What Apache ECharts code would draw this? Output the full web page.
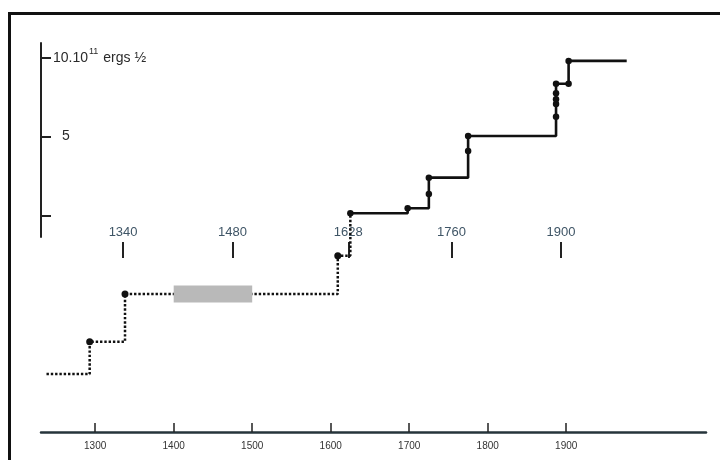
<!DOCTYPE html>
<html><head><meta charset="utf-8">
<script src="https://cdn.jsdelivr.net/npm/echarts@6/dist/echarts.min.js"></script>
<style>
html,body{margin:0;padding:0;background:#fff;}
#frame{position:absolute;left:8px;top:12px;width:712px;height:448px;border-top:3px solid #111;border-left:3px solid #111;box-sizing:border-box;}
#chart{position:absolute;left:0;top:0;width:720px;height:460px;}
</style></head><body>
<div id="frame"></div><div id="chart"></div>
<script>
// Reconstructed (dotted) part of the cumulative curve
const dottedYears = [1238, 1293, 1338, 1609, 1625];
const dottedValues = [-10.0, -7.95, -4.94, -2.53, 0.15];
// Instrumental / historical (solid) part
const solidYears = [1625, 1698, 1725, 1725, 1775, 1775, 1887, 1887, 1887, 1887, 1887, 1903, 1903, 1977];
const solidValues = [0.15, 0.47, 1.37, 2.40, 4.08, 5.03, 6.25, 7.05, 7.35, 7.73, 8.33, 8.33, 9.77, 9.77];
// Grey gap period
const grayPeriod = [1400, 1500];
// Tick labels
const yearTicks = [1300, 1400, 1500, 1600, 1700, 1800, 1900];
const markerYears = [1340, 1480, 1628, 1760, 1900];
const yTicks = [0, 5, 10];

const FONT = 'Liberation Sans';
const dotted = dottedYears.map((x, i) => [x, dottedValues[i]]);
const solid = solidYears.map((x, i) => [x, solidValues[i]]);

const chart = echarts.init(document.getElementById('chart'), null, {renderer: 'canvas'});
chart.setOption({
  animation: false,
  backgroundColor: 'transparent',
  grid: {left: 41, right: 14, top: 43, bottom: 223, containLabel: false},
  xAxis: [
    {
      type: 'value', min: 1231, max: 2078, position: 'bottom', offset: 195,
      axisLine: {show: true, onZero: false, lineStyle: {color: '#26343b', width: 2.5}},
      axisTick: {show: true, inside: true, length: 9, customValues: yearTicks, lineStyle: {color: '#222', width: 1.5}},
      axisLabel: {show: true, customValues: yearTicks, margin: 9, fontSize: 10, color: '#333', fontFamily: FONT, formatter: v => String(v)},
      splitLine: {show: false}
    },
    {
      type: 'value', min: 1235, max: 2085.5, position: 'bottom', offset: 21,
      axisLine: {show: false, onZero: false},
      axisTick: {show: true, inside: true, length: 16, customValues: markerYears, lineStyle: {color: '#222', width: 2}},
      axisLabel: {show: true, inside: true, customValues: markerYears, margin: 19, fontSize: 13, color: '#3f5566', fontFamily: FONT, formatter: v => String(v)},
      splitLine: {show: false}
    }
  ],
  yAxis: {
    type: 'value', min: -1.345, max: 10.9,
    axisLine: {show: true, onZero: false, lineStyle: {color: '#222', width: 2}},
    axisTick: {show: true, inside: true, length: 10, customValues: yTicks, lineStyle: {color: '#222', width: 2}},
    axisLabel: {
      show: true, inside: true, margin: 12, customValues: yTicks,
      fontFamily: FONT, fontSize: 14, color: '#2a2a2a',
      formatter: v => v === 10 ? '{a|10.10}{s|11}{a| ergs ½}' : (v === 5 ? '{f|5}' : ''),
      rich: {
        a: {fontFamily: FONT, fontSize: 14, color: '#2a2a2a', lineHeight: 16, verticalAlign: 'bottom'},
        s: {fontFamily: FONT, fontSize: 9, color: '#2a2a2a', lineHeight: 10, verticalAlign: 'bottom', padding: [0, 1, 9, 1]},
        f: {fontFamily: FONT, fontSize: 14, color: '#2a2a2a', padding: [0, 0, 0, 9]}
      }
    },
    splitLine: {show: false}
  },
  series: [
    {
      type: 'line', xAxisIndex: 0, data: dotted, step: 'end', clip: false, z: 2,
      lineStyle: {color: '#111', width: 2.5, type: [2.4, 1.9], cap: 'butt'},
      symbol: 'circle',
      symbolSize: (v, p) => (p.dataIndex === 0 || p.dataIndex === dotted.length - 1) ? 0 : 7,
      itemStyle: {color: '#111'}
    },
    {
      type: 'line', xAxisIndex: 0, data: solid, step: 'end', clip: false, z: 3,
      lineStyle: {color: '#111', width: 2.6},
      symbol: 'circle',
      symbolSize: (v, p) => p.dataIndex === solid.length - 1 ? 0 : 6.5,
      itemStyle: {color: '#111'}
    },
    {
      type: 'custom', xAxisIndex: 0, clip: false, z: 4,
      data: [[grayPeriod[0], grayPeriod[1], dottedValues[2]]],
      renderItem: (params, api) => {
        const a = api.coord([api.value(0), api.value(2)]);
        const b = api.coord([api.value(1), api.value(2)]);
        return {type: 'rect', shape: {x: a[0], y: a[1] - 8.5, width: b[0] - a[0], height: 17}, style: {fill: '#b9b9b9'}};
      }
    }
  ]
});
</script>
</body></html>
